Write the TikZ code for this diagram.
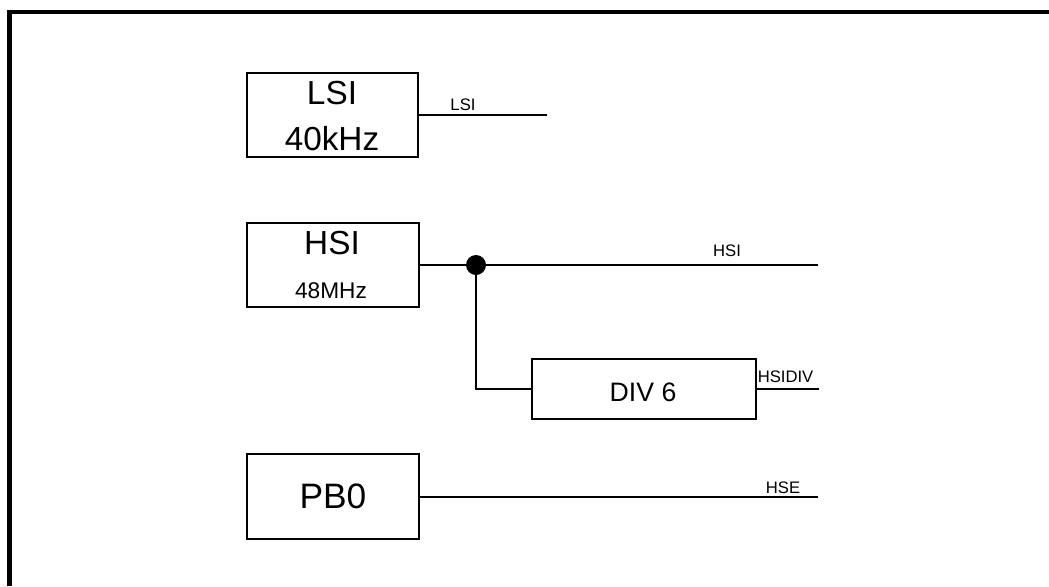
\documentclass[tikz,border=0pt]{standalone}
\usepackage{fontspec}
\setmainfont{Liberation Sans}
\begin{document}
\begin{tikzpicture}[x=0.75pt,y=-0.75pt,
  blk/.style={draw,line width=1.5pt,inner sep=0pt,outer sep=0pt},
  wire/.style={line width=1.5pt},
  txt/.style={inner sep=0pt,anchor=base},
  bigtxt/.style={txt,font=\fontsize{25}{30}\selectfont},
  smalltxt/.style={txt,font=\fontsize{12.5}{15}\selectfont}]
\useasboundingbox (0,0) rectangle (1049,586);
% frame (open to the right and bottom)
\draw[line width=3.4pt] (9.5,586) -- (9.5,12) -- (1049,12);
% blocks
\node[blk,minimum width=128.25pt,minimum height=63pt] (lsi) at (332.5,115) {};
\node[blk,minimum width=129pt,minimum height=63pt] (hsi) at (333,265) {};
\node[blk,minimum width=129pt,minimum height=63.75pt] (pb0) at (333,496.5) {};
\node[blk,minimum width=168pt,minimum height=45pt] (div) at (644,389) {};
% block texts
\node[bigtxt] (lsit1) at (332,104.7) {LSI};
\node[bigtxt] (lsit2) at (332,150.2) {40kHz};
\node[bigtxt] (hsit1) at (332,254.1) {HSI};
\node[txt,font=\fontsize{17}{20}\selectfont] (hsit2) at (331,298.9) {48MHz};
\node[txt,font=\fontsize{20}{24}\selectfont] (divt) at (643,401.2) {DIV 6};
\node[txt,font=\fontsize{26.5}{30}\selectfont] (pb0t) at (333,508.9) {PB0};
% end points
\coordinate (lsiend) at (547,115);
\coordinate (hsiend) at (818,265);
\coordinate (divend) at (819,389);
\coordinate (hseend) at (818,496.5);
\coordinate (corner) at (476,389);
\node[circle,fill=black,inner sep=0pt,minimum size=15pt] (jn) at (476,265) {};
% wires
\draw[wire] (lsi.east) -- (lsiend);
\draw[wire] (hsi.east) -- (hsiend);
\draw[wire] (jn.center) -- (corner) -- (div.west);
\draw[wire] (div.east) -- (divend);
\draw[wire] (pb0.east) -- (hseend);
% wire labels
\node[smalltxt] (lsil) at (463,110) {LSI};
\node[smalltxt] (hsil) at (727,256) {HSI};
\node[smalltxt,anchor=base west] (divl) at (757.5,382.5) {HSIDIV};
\node[smalltxt] (hsel) at (783,493.7) {HSE};
\end{tikzpicture}
\end{document}
